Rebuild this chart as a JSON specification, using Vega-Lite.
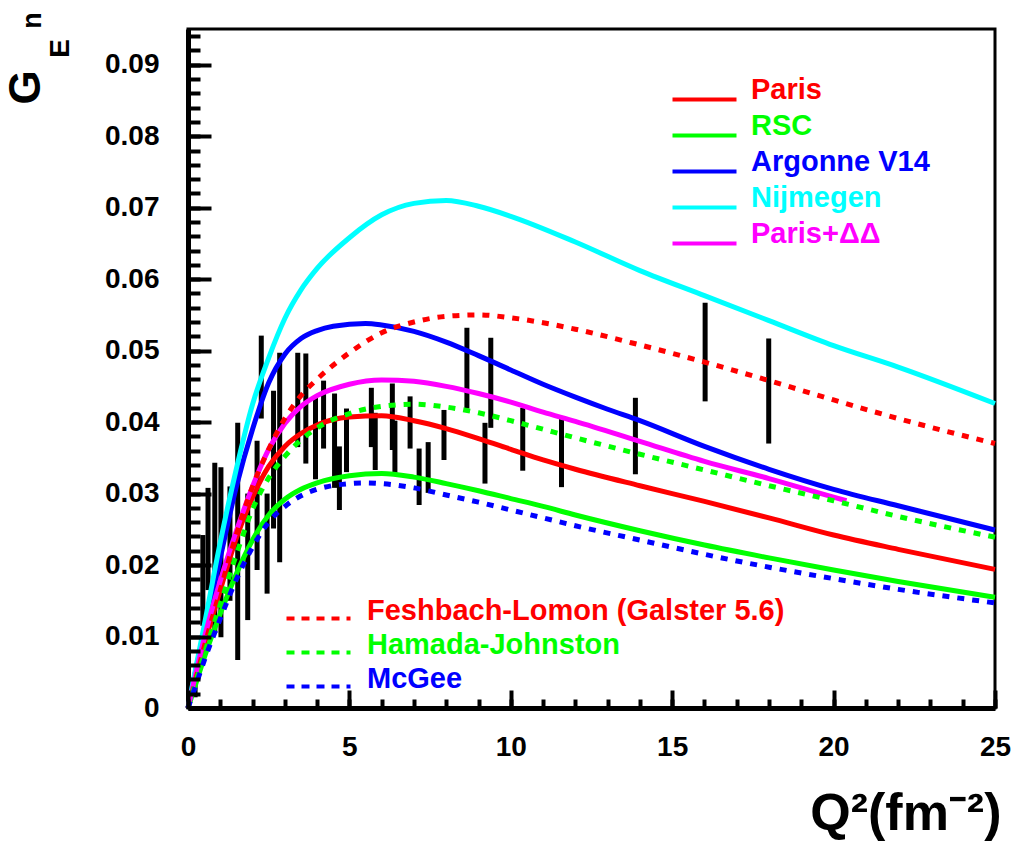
{
  "$schema": "https://vega.github.io/schema/vega-lite/v6.json",
  "width": 807,
  "height": 679,
  "autosize": "none",
  "padding": {"left": 188, "top": 29, "right": 18, "bottom": 136},
  "background": "white",
  "config": {"view": {"stroke": "black", "strokeWidth": 3}, "font": "Liberation Sans"},
  "datasets": {
    "bars": [
      {"q2": 0.22, "lo": 0.0015, "hi": 0.0035},
      {"q2": 0.46, "lo": 0.0115, "hi": 0.0242},
      {"q2": 0.62, "lo": 0.0165, "hi": 0.0308},
      {"q2": 0.83, "lo": 0.0105, "hi": 0.0343},
      {"q2": 1.02, "lo": 0.0099, "hi": 0.0337},
      {"q2": 1.30, "lo": 0.0150, "hi": 0.0310},
      {"q2": 1.54, "lo": 0.0067, "hi": 0.0399},
      {"q2": 1.85, "lo": 0.0123, "hi": 0.0300},
      {"q2": 2.14, "lo": 0.0193, "hi": 0.0374},
      {"q2": 2.27, "lo": 0.0405, "hi": 0.0521},
      {"q2": 2.45, "lo": 0.0160, "hi": 0.0300},
      {"q2": 2.65, "lo": 0.0251, "hi": 0.0444},
      {"q2": 2.84, "lo": 0.0204, "hi": 0.0497},
      {"q2": 3.40, "lo": 0.0365, "hi": 0.0497},
      {"q2": 3.65, "lo": 0.0342, "hi": 0.0496},
      {"q2": 3.95, "lo": 0.0320, "hi": 0.0435},
      {"q2": 4.20, "lo": 0.0363, "hi": 0.0458},
      {"q2": 4.54, "lo": 0.0308, "hi": 0.0440},
      {"q2": 4.69, "lo": 0.0277, "hi": 0.0366},
      {"q2": 4.91, "lo": 0.0330, "hi": 0.0419},
      {"q2": 5.68, "lo": 0.0365, "hi": 0.0448},
      {"q2": 5.80, "lo": 0.0333, "hi": 0.0413},
      {"q2": 6.33, "lo": 0.0361, "hi": 0.0454},
      {"q2": 6.41, "lo": 0.0329, "hi": 0.0402},
      {"q2": 6.88, "lo": 0.0363, "hi": 0.0436},
      {"q2": 7.16, "lo": 0.0284, "hi": 0.0363},
      {"q2": 7.44, "lo": 0.0301, "hi": 0.0372},
      {"q2": 7.93, "lo": 0.0347, "hi": 0.0417},
      {"q2": 8.64, "lo": 0.0419, "hi": 0.0532},
      {"q2": 9.20, "lo": 0.0314, "hi": 0.0399},
      {"q2": 9.38, "lo": 0.0392, "hi": 0.0518},
      {"q2": 10.37, "lo": 0.0332, "hi": 0.0420},
      {"q2": 11.57, "lo": 0.0309, "hi": 0.0405},
      {"q2": 13.86, "lo": 0.0327, "hi": 0.0434},
      {"q2": 16.02, "lo": 0.0429, "hi": 0.0567},
      {"q2": 17.99, "lo": 0.0370, "hi": 0.0517}
    ],
    "solid": [
      {"model": "Paris", "q2": 0, "g": 0},
      {"model": "Paris", "q2": 0.25, "g": 0.0045},
      {"model": "Paris", "q2": 0.5, "g": 0.0088},
      {"model": "Paris", "q2": 1, "g": 0.0165},
      {"model": "Paris", "q2": 1.5, "g": 0.0238},
      {"model": "Paris", "q2": 2, "g": 0.0295},
      {"model": "Paris", "q2": 2.5, "g": 0.0338},
      {"model": "Paris", "q2": 3, "g": 0.0366},
      {"model": "Paris", "q2": 3.5, "g": 0.0384},
      {"model": "Paris", "q2": 4, "g": 0.0396},
      {"model": "Paris", "q2": 5, "g": 0.0407},
      {"model": "Paris", "q2": 6, "g": 0.0409},
      {"model": "Paris", "q2": 7, "g": 0.0402},
      {"model": "Paris", "q2": 8, "g": 0.0391},
      {"model": "Paris", "q2": 9, "g": 0.0377},
      {"model": "Paris", "q2": 10, "g": 0.0362},
      {"model": "Paris", "q2": 11, "g": 0.0347},
      {"model": "Paris", "q2": 12, "g": 0.0334},
      {"model": "Paris", "q2": 14, "g": 0.0311},
      {"model": "Paris", "q2": 16, "g": 0.0289},
      {"model": "Paris", "q2": 18, "g": 0.0266},
      {"model": "Paris", "q2": 20, "g": 0.0242},
      {"model": "Paris", "q2": 22, "g": 0.0222},
      {"model": "Paris", "q2": 25, "g": 0.0194},
      {"model": "RSC", "q2": 0, "g": 0},
      {"model": "RSC", "q2": 0.25, "g": 0.0035},
      {"model": "RSC", "q2": 0.5, "g": 0.007},
      {"model": "RSC", "q2": 1, "g": 0.0132},
      {"model": "RSC", "q2": 1.5, "g": 0.0188},
      {"model": "RSC", "q2": 2, "g": 0.0235},
      {"model": "RSC", "q2": 2.5, "g": 0.027},
      {"model": "RSC", "q2": 3, "g": 0.0292},
      {"model": "RSC", "q2": 3.5, "g": 0.0306},
      {"model": "RSC", "q2": 4, "g": 0.0315},
      {"model": "RSC", "q2": 5, "g": 0.0325},
      {"model": "RSC", "q2": 6, "g": 0.0328},
      {"model": "RSC", "q2": 7, "g": 0.0323},
      {"model": "RSC", "q2": 8, "g": 0.0314},
      {"model": "RSC", "q2": 9, "g": 0.0304},
      {"model": "RSC", "q2": 10, "g": 0.0293},
      {"model": "RSC", "q2": 11, "g": 0.0282},
      {"model": "RSC", "q2": 12, "g": 0.027},
      {"model": "RSC", "q2": 14, "g": 0.0248},
      {"model": "RSC", "q2": 16, "g": 0.0228},
      {"model": "RSC", "q2": 18, "g": 0.021},
      {"model": "RSC", "q2": 20, "g": 0.0193},
      {"model": "RSC", "q2": 22, "g": 0.0177},
      {"model": "RSC", "q2": 25, "g": 0.0155},
      {"model": "Argonne V14", "q2": 0, "g": 0},
      {"model": "Argonne V14", "q2": 0.25, "g": 0.0055},
      {"model": "Argonne V14", "q2": 0.5, "g": 0.0107},
      {"model": "Argonne V14", "q2": 1, "g": 0.021},
      {"model": "Argonne V14", "q2": 1.5, "g": 0.031},
      {"model": "Argonne V14", "q2": 2, "g": 0.039},
      {"model": "Argonne V14", "q2": 2.5, "g": 0.0455},
      {"model": "Argonne V14", "q2": 3, "g": 0.0495},
      {"model": "Argonne V14", "q2": 3.5, "g": 0.0517},
      {"model": "Argonne V14", "q2": 4, "g": 0.0528},
      {"model": "Argonne V14", "q2": 4.5, "g": 0.0534},
      {"model": "Argonne V14", "q2": 5.5, "g": 0.0538},
      {"model": "Argonne V14", "q2": 6, "g": 0.0536},
      {"model": "Argonne V14", "q2": 7, "g": 0.0527},
      {"model": "Argonne V14", "q2": 8, "g": 0.0512},
      {"model": "Argonne V14", "q2": 9, "g": 0.0493},
      {"model": "Argonne V14", "q2": 10, "g": 0.0473},
      {"model": "Argonne V14", "q2": 11, "g": 0.0453},
      {"model": "Argonne V14", "q2": 12, "g": 0.0435},
      {"model": "Argonne V14", "q2": 13, "g": 0.0418},
      {"model": "Argonne V14", "q2": 14, "g": 0.0402},
      {"model": "Argonne V14", "q2": 16, "g": 0.0366},
      {"model": "Argonne V14", "q2": 18, "g": 0.0334},
      {"model": "Argonne V14", "q2": 20, "g": 0.0306},
      {"model": "Argonne V14", "q2": 22, "g": 0.0283},
      {"model": "Argonne V14", "q2": 25, "g": 0.0249},
      {"model": "Nijmegen", "q2": 0, "g": 0},
      {"model": "Nijmegen", "q2": 0.25, "g": 0.0058},
      {"model": "Nijmegen", "q2": 0.5, "g": 0.0115},
      {"model": "Nijmegen", "q2": 1, "g": 0.0232},
      {"model": "Nijmegen", "q2": 1.5, "g": 0.0335},
      {"model": "Nijmegen", "q2": 2, "g": 0.0425},
      {"model": "Nijmegen", "q2": 2.5, "g": 0.049},
      {"model": "Nijmegen", "q2": 3, "g": 0.0545},
      {"model": "Nijmegen", "q2": 3.5, "g": 0.0585},
      {"model": "Nijmegen", "q2": 4, "g": 0.0615},
      {"model": "Nijmegen", "q2": 5, "g": 0.0658},
      {"model": "Nijmegen", "q2": 6, "g": 0.069},
      {"model": "Nijmegen", "q2": 7, "g": 0.0706},
      {"model": "Nijmegen", "q2": 8, "g": 0.071},
      {"model": "Nijmegen", "q2": 9, "g": 0.0702},
      {"model": "Nijmegen", "q2": 10, "g": 0.0688},
      {"model": "Nijmegen", "q2": 12, "g": 0.0652},
      {"model": "Nijmegen", "q2": 14, "g": 0.0612},
      {"model": "Nijmegen", "q2": 16, "g": 0.0577},
      {"model": "Nijmegen", "q2": 18, "g": 0.0542},
      {"model": "Nijmegen", "q2": 20, "g": 0.0507},
      {"model": "Nijmegen", "q2": 22, "g": 0.0477},
      {"model": "Nijmegen", "q2": 25, "g": 0.0426},
      {"model": "Paris+ΔΔ", "q2": 0, "g": 0},
      {"model": "Paris+ΔΔ", "q2": 0.25, "g": 0.005},
      {"model": "Paris+ΔΔ", "q2": 0.5, "g": 0.0097},
      {"model": "Paris+ΔΔ", "q2": 1, "g": 0.0178},
      {"model": "Paris+ΔΔ", "q2": 1.5, "g": 0.0248},
      {"model": "Paris+ΔΔ", "q2": 2, "g": 0.031},
      {"model": "Paris+ΔΔ", "q2": 2.5, "g": 0.0362},
      {"model": "Paris+ΔΔ", "q2": 3, "g": 0.0398},
      {"model": "Paris+ΔΔ", "q2": 3.5, "g": 0.0422},
      {"model": "Paris+ΔΔ", "q2": 4, "g": 0.0437},
      {"model": "Paris+ΔΔ", "q2": 5, "g": 0.0453},
      {"model": "Paris+ΔΔ", "q2": 6, "g": 0.0459},
      {"model": "Paris+ΔΔ", "q2": 7, "g": 0.0457},
      {"model": "Paris+ΔΔ", "q2": 8, "g": 0.045},
      {"model": "Paris+ΔΔ", "q2": 9, "g": 0.044},
      {"model": "Paris+ΔΔ", "q2": 10, "g": 0.0428},
      {"model": "Paris+ΔΔ", "q2": 11, "g": 0.0414},
      {"model": "Paris+ΔΔ", "q2": 12, "g": 0.0401},
      {"model": "Paris+ΔΔ", "q2": 14, "g": 0.0373},
      {"model": "Paris+ΔΔ", "q2": 16, "g": 0.0345},
      {"model": "Paris+ΔΔ", "q2": 18, "g": 0.0321},
      {"model": "Paris+ΔΔ", "q2": 20, "g": 0.0295},
      {"model": "Paris+ΔΔ", "q2": 20.4, "g": 0.029}
    ],
    "dashed": [
      {"model": "Feshbach-Lomon (Galster 5.6)", "q2": 0, "g": 0},
      {"model": "Feshbach-Lomon (Galster 5.6)", "q2": 0.25, "g": 0.0042},
      {"model": "Feshbach-Lomon (Galster 5.6)", "q2": 0.5, "g": 0.0085},
      {"model": "Feshbach-Lomon (Galster 5.6)", "q2": 1, "g": 0.0165},
      {"model": "Feshbach-Lomon (Galster 5.6)", "q2": 1.5, "g": 0.0243},
      {"model": "Feshbach-Lomon (Galster 5.6)", "q2": 2, "g": 0.031},
      {"model": "Feshbach-Lomon (Galster 5.6)", "q2": 2.5, "g": 0.0362},
      {"model": "Feshbach-Lomon (Galster 5.6)", "q2": 3, "g": 0.0405},
      {"model": "Feshbach-Lomon (Galster 5.6)", "q2": 3.5, "g": 0.0437},
      {"model": "Feshbach-Lomon (Galster 5.6)", "q2": 4, "g": 0.046},
      {"model": "Feshbach-Lomon (Galster 5.6)", "q2": 5, "g": 0.0497},
      {"model": "Feshbach-Lomon (Galster 5.6)", "q2": 6, "g": 0.0525},
      {"model": "Feshbach-Lomon (Galster 5.6)", "q2": 7, "g": 0.054},
      {"model": "Feshbach-Lomon (Galster 5.6)", "q2": 8, "g": 0.0548},
      {"model": "Feshbach-Lomon (Galster 5.6)", "q2": 9, "g": 0.055},
      {"model": "Feshbach-Lomon (Galster 5.6)", "q2": 10, "g": 0.0546},
      {"model": "Feshbach-Lomon (Galster 5.6)", "q2": 11, "g": 0.0539},
      {"model": "Feshbach-Lomon (Galster 5.6)", "q2": 12, "g": 0.053},
      {"model": "Feshbach-Lomon (Galster 5.6)", "q2": 14, "g": 0.0508},
      {"model": "Feshbach-Lomon (Galster 5.6)", "q2": 16, "g": 0.0484},
      {"model": "Feshbach-Lomon (Galster 5.6)", "q2": 18, "g": 0.0458},
      {"model": "Feshbach-Lomon (Galster 5.6)", "q2": 20, "g": 0.0431},
      {"model": "Feshbach-Lomon (Galster 5.6)", "q2": 22, "g": 0.0405},
      {"model": "Feshbach-Lomon (Galster 5.6)", "q2": 25, "g": 0.037},
      {"model": "Hamada-Johnston", "q2": 0, "g": 0},
      {"model": "Hamada-Johnston", "q2": 0.25, "g": 0.0038},
      {"model": "Hamada-Johnston", "q2": 0.5, "g": 0.0075},
      {"model": "Hamada-Johnston", "q2": 1, "g": 0.0145},
      {"model": "Hamada-Johnston", "q2": 1.5, "g": 0.0215},
      {"model": "Hamada-Johnston", "q2": 2, "g": 0.0278},
      {"model": "Hamada-Johnston", "q2": 2.5, "g": 0.0322},
      {"model": "Hamada-Johnston", "q2": 3, "g": 0.0352},
      {"model": "Hamada-Johnston", "q2": 3.5, "g": 0.0375},
      {"model": "Hamada-Johnston", "q2": 4, "g": 0.0392},
      {"model": "Hamada-Johnston", "q2": 5, "g": 0.0412},
      {"model": "Hamada-Johnston", "q2": 6, "g": 0.0422},
      {"model": "Hamada-Johnston", "q2": 7, "g": 0.0425},
      {"model": "Hamada-Johnston", "q2": 8, "g": 0.0421},
      {"model": "Hamada-Johnston", "q2": 9, "g": 0.0413},
      {"model": "Hamada-Johnston", "q2": 10, "g": 0.0402},
      {"model": "Hamada-Johnston", "q2": 11, "g": 0.039},
      {"model": "Hamada-Johnston", "q2": 12, "g": 0.0378},
      {"model": "Hamada-Johnston", "q2": 14, "g": 0.0355},
      {"model": "Hamada-Johnston", "q2": 16, "g": 0.0333},
      {"model": "Hamada-Johnston", "q2": 18, "g": 0.0311},
      {"model": "Hamada-Johnston", "q2": 20, "g": 0.029},
      {"model": "Hamada-Johnston", "q2": 22, "g": 0.0268},
      {"model": "Hamada-Johnston", "q2": 25, "g": 0.0239},
      {"model": "McGee", "q2": 0, "g": 0},
      {"model": "McGee", "q2": 0.25, "g": 0.0033},
      {"model": "McGee", "q2": 0.5, "g": 0.0066},
      {"model": "McGee", "q2": 1, "g": 0.0125},
      {"model": "McGee", "q2": 1.5, "g": 0.018},
      {"model": "McGee", "q2": 2, "g": 0.0225},
      {"model": "McGee", "q2": 2.5, "g": 0.026},
      {"model": "McGee", "q2": 3, "g": 0.0282},
      {"model": "McGee", "q2": 3.5, "g": 0.0297},
      {"model": "McGee", "q2": 4, "g": 0.0306},
      {"model": "McGee", "q2": 5, "g": 0.0314},
      {"model": "McGee", "q2": 5.5, "g": 0.0315},
      {"model": "McGee", "q2": 6, "g": 0.0314},
      {"model": "McGee", "q2": 7, "g": 0.0308},
      {"model": "McGee", "q2": 8, "g": 0.0298},
      {"model": "McGee", "q2": 9, "g": 0.0288},
      {"model": "McGee", "q2": 10, "g": 0.0277},
      {"model": "McGee", "q2": 11, "g": 0.0266},
      {"model": "McGee", "q2": 12, "g": 0.0255},
      {"model": "McGee", "q2": 14, "g": 0.0235},
      {"model": "McGee", "q2": 16, "g": 0.0215},
      {"model": "McGee", "q2": 18, "g": 0.0197},
      {"model": "McGee", "q2": 20, "g": 0.0181},
      {"model": "McGee", "q2": 22, "g": 0.0166},
      {"model": "McGee", "q2": 25, "g": 0.0147}
    ]
  },
  "layer": [
    {
      "data": {"name": "bars"},
      "mark": {"type": "rule", "strokeWidth": 5, "color": "black"},
      "encoding": {
        "x": {
          "field": "q2", "type": "quantitative",
          "scale": {"domain": [0, 25], "nice": false, "zero": false},
          "axis": {
            "orient": "bottom",
            "values": [0, 5, 10, 15, 20, 25],
            "grid": false, "ticks": false,
            "domainColor": "black", "domainWidth": 5,
            "labelFont": "Liberation Sans", "labelFontSize": 28, "labelFontWeight": "bold", "labelColor": "black",
            "labelPadding": 25, "labelOverlap": false, "labelFlush": false,
            "title": "Q²(fm⁻²)",
            "titleFont": "Liberation Sans", "titleFontSize": 52, "titleFontWeight": "bold", "titleColor": "black",
            "titleX": 813, "titleY": 121, "titleAlign": "right", "titleBaseline": "alphabetic", "titleAngle": 0
          }
        },
        "y": {
          "field": "lo", "type": "quantitative",
          "scale": {"domain": [0, 0.095], "nice": false, "zero": false},
          "axis": {
            "orient": "left",
            "values": [0, 0.01, 0.02, 0.03, 0.04, 0.05, 0.06, 0.07, 0.08, 0.09],
            "grid": false, "ticks": false,
            "domainColor": "black", "domainWidth": 5,
            "labelExpr": "datum.value == 0 ? '0' : format(datum.value, '.2f')",
            "labelFont": "Liberation Sans", "labelFontSize": 28, "labelFontWeight": "bold", "labelColor": "black",
            "labelPadding": 29, "labelOverlap": false, "labelFlush": false,
            "title": "G",
            "titleFont": "Liberation Sans", "titleFontSize": 44, "titleFontWeight": "bold", "titleColor": "black",
            "titleX": -162, "titleY": 58, "titleAngle": 270, "titleAlign": "center", "titleBaseline": "middle"
          }
        },
        "y2": {"field": "hi"}
      }
    },
    {
      "data": {"name": "solid"},
      "mark": {"type": "line", "strokeWidth": 5, "interpolate": "monotone"},
      "encoding": {
        "x": {
          "field": "q2", "type": "quantitative",
          "scale": {"domain": [0, 25], "nice": false, "zero": false},
          "axis": {
            "orient": "bottom", "offset": -18, "zindex": 2,
            "values": [0, 5, 10, 15, 20, 25],
            "domain": false, "labels": false, "grid": false,
            "tickColor": "#000000", "tickOpacity": 1, "tickWidth": 4, "tickSize": 18,
            "title": "n",
            "titleFont": "Liberation Sans", "titleFontSize": 27, "titleFontWeight": "bold", "titleColor": "black",
            "titleX": -156, "titleY": -670, "titleAngle": 270, "titleAlign": "center", "titleBaseline": "middle"
          }
        },
        "y": {
          "field": "g", "type": "quantitative",
          "scale": {"domain": [0, 0.095], "nice": false, "zero": false},
          "axis": {
            "orient": "left", "offset": -23, "zindex": 2,
            "values": [0, 0.01, 0.02, 0.03, 0.04, 0.05, 0.06, 0.07, 0.08, 0.09],
            "domain": false, "labels": false, "grid": false,
            "tickColor": "#000000", "tickOpacity": 1, "tickWidth": 4, "tickSize": 23,
            "title": "E",
            "titleFont": "Liberation Sans", "titleFontSize": 28, "titleFontWeight": "bold", "titleColor": "black",
            "titleX": -151, "titleY": 19, "titleAngle": 270, "titleAlign": "center", "titleBaseline": "middle"
          }
        },
        "color": {
          "field": "model", "type": "nominal",
          "scale": {
            "domain": ["Paris", "RSC", "Argonne V14", "Nijmegen", "Paris+ΔΔ"],
            "range": ["#ff0000", "#00ff00", "#0000ff", "#00ffff", "#ff00ff"]
          },
          "legend": {
            "orient": "none", "legendX": 502, "legendY": 56,
            "title": null, "padding": 0,
            "symbolType": "M-4,0H4", "symbolSize": 256, "symbolStrokeWidth": 4,
            "labelFont": "Liberation Sans", "labelFontSize": 29, "labelFontWeight": "bold",
            "labelOffset": 32, "rowPadding": 3, "labelLimit": 600,
            "encode": {
              "labels": {
                "update": {
                  "dy": {"value": -10},
                  "fill": {"signal": "datum.value === 'Paris' ? '#ff0000' : datum.value === 'RSC' ? '#00ff00' : datum.value === 'Argonne V14' ? '#0000ff' : datum.value === 'Nijmegen' ? '#00ffff' : '#ff00ff'"}
                }
              }
            }
          }
        }
      }
    },
    {
      "data": {"name": "dashed"},
      "mark": {"type": "line", "strokeWidth": 5, "interpolate": "monotone", "strokeDash": [7, 8]},
      "encoding": {
        "x": {
          "field": "q2", "type": "quantitative",
          "scale": {"domain": [0, 25], "nice": false, "zero": false},
          "axis": {
            "orient": "bottom", "offset": -9, "zindex": 2,
            "values": [0,1,2,3,4,5,6,7,8,9,10,11,12,13,14,15,16,17,18,19,20,21,22,23,24,25],
            "domain": false, "labels": false, "grid": false, "title": null,
            "tickColor": "#000000", "tickOpacity": 1, "tickWidth": 4, "tickSize": 9
          }
        },
        "y": {
          "field": "g", "type": "quantitative",
          "scale": {"domain": [0, 0.095], "nice": false, "zero": false},
          "axis": {
            "orient": "left", "offset": -12, "zindex": 2,
            "values": [0,0.002,0.004,0.006,0.008,0.01,0.012,0.014,0.016,0.018,0.02,0.022,0.024,0.026,0.028,0.03,0.032,0.034,0.036,0.038,0.04,0.042,0.044,0.046,0.048,0.05,0.052,0.054,0.056,0.058,0.06,0.062,0.064,0.066,0.068,0.07,0.072,0.074,0.076,0.078,0.08,0.082,0.084,0.086,0.088,0.09,0.092,0.094],
            "domain": false, "labels": false, "grid": false, "title": null,
            "tickColor": "#000000", "tickOpacity": 1, "tickWidth": 4, "tickSize": 12
          }
        },
        "color": {
          "field": "model", "type": "nominal",
          "scale": {
            "domain": ["Feshbach-Lomon (Galster 5.6)", "Hamada-Johnston", "McGee"],
            "range": ["#ff0000", "#00ff00", "#0000ff"]
          },
          "legend": {
            "orient": "none", "legendX": 116, "legendY": 575,
            "title": null, "padding": 0,
            "symbolType": "M-4,0H4", "symbolSize": 256, "symbolStrokeWidth": 4, "symbolDash": [8, 7],
            "labelFont": "Liberation Sans", "labelFontSize": 29, "labelFontWeight": "bold",
            "labelOffset": 34, "rowPadding": 3, "labelLimit": 600,
            "encode": {
              "labels": {
                "update": {
                  "dy": {"value": -8},
                  "fill": {"signal": "datum.value === 'Feshbach-Lomon (Galster 5.6)' ? '#ff0000' : datum.value === 'Hamada-Johnston' ? '#00ff00' : '#0000ff'"}
                }
              }
            }
          }
        }
      }
    }
  ],
  "resolve": {
    "scale": {"color": "independent"},
    "legend": {"color": "independent"},
    "axis": {"x": "independent", "y": "independent"}
  }
}
